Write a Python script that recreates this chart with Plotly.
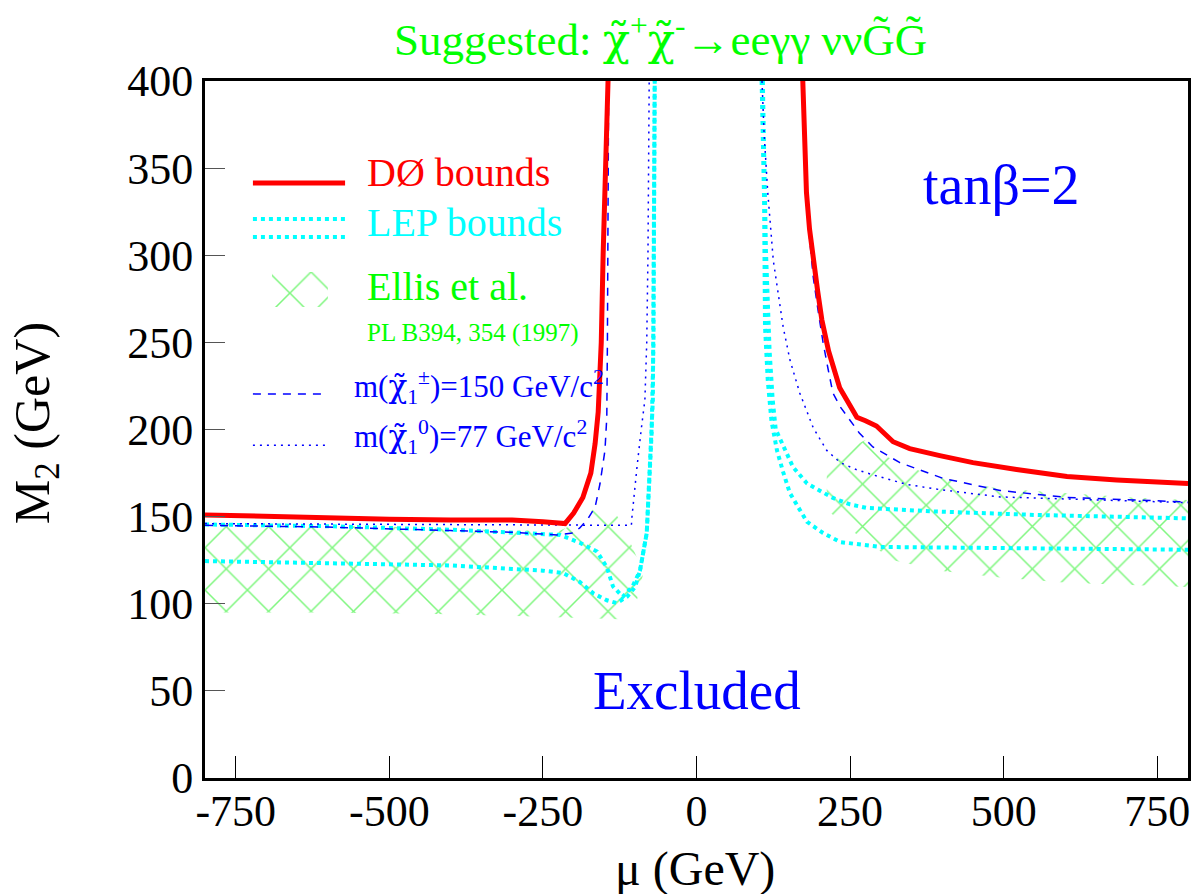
import plotly.graph_objects as go

# ---------------- data ----------------
# D0 bounds (red)
d0_left_mu = [-800, -700, -600, -500, -400, -300, -250, -214, -200, -185, -172, -165, -160, -155, -152, -149, -146, -144]
d0_left_m2 = [151, 150, 149, 148.5, 148, 148, 147, 146, 152, 161, 175, 192, 210, 250, 300, 340, 380, 400]
d0_right_mu = [173, 176, 179, 184, 190, 197, 204, 215, 233, 245, 261, 275, 293, 320, 347, 396, 450, 521, 603, 684, 800]
d0_right_m2 = [400, 370, 336, 315, 297, 280, 263, 245, 224, 217, 207, 205, 202, 193, 189, 185, 181, 177, 173, 171, 169]

# LEP bounds (cyan, two lines each side)
lep_left_up_mu = [-800, -600, -400, -300, -222, -190, -162, -146, -136, -120, -104, -92, -81, -73, -70, -68]
lep_left_up_m2 = [145.5, 144.5, 142.5, 141, 139.5, 135, 130, 121, 110, 104, 110, 119, 140.6, 198, 250, 400]
lep_left_lo_mu = [-800, -600, -400, -300, -250, -217, -190, -168, -146, -130, -113, -100, -92, -81, -73, -71, -68]
lep_left_lo_m2 = [124.5, 123.5, 122, 120, 119, 117.6, 112.5, 106, 102, 100.4, 104, 109.6, 119, 140.6, 198, 217, 400]
lep_right_up_mu = [108, 111, 113, 119, 124, 129, 144, 157, 180, 222, 250, 277, 385, 549, 800]
lep_right_up_m2 = [400, 340, 303, 245, 217, 200, 188, 178.5, 169, 160.7, 157, 155, 153, 151, 149]
lep_right_lo_mu = [106, 110, 111.5, 116, 122, 131, 141, 152, 168, 180, 206, 234, 299, 440, 603, 800]
lep_right_lo_m2 = [400, 332, 259, 228, 205, 188, 175.6, 163.5, 154, 147, 140.6, 135.4, 132.6, 132, 131.4, 131]

# m(chargino1) = 150 GeV (blue dashed)
chi_pm_left_mu = [-800, -600, -400, -300, -227, -201, -190, -177, -165, -157, -149, -146, -145, -144, -143]
chi_pm_left_m2 = [145, 144, 142, 141, 139.5, 140.6, 143.5, 148.6, 155.5, 169, 188, 207, 250, 320, 400]
chi_pm_right_mu = [172, 176, 179, 184, 190, 198, 206, 214, 222, 234, 250, 265, 287, 331, 401, 494, 603, 710, 800]
chi_pm_right_m2 = [400, 365, 336, 310, 287.5, 268, 250, 235, 221, 213, 205.5, 198, 190, 181, 172, 165, 161, 159.5, 158.4]

# m(neutralino1) = 77 GeV (blue dotted)
chi0_left_mu = [-800, -500, -300, -200, -106, -105, -101, -97, -90, -84, -81, -79, -77]
chi0_left_m2 = [146, 145.5, 145, 145, 145, 150, 165, 178, 200, 217, 250, 300, 400]
chi0_right_mu = [106.6, 110, 116, 125, 141, 152, 168, 190, 212, 234, 260, 287, 342, 396, 494, 657, 800]
chi0_right_m2 = [400, 370, 336, 297, 259, 240, 221, 201, 188, 181, 177, 174, 168.5, 165.5, 161.3, 159.5, 158]

# Ellis et al. hatched regions
ellis_left_mu = [-800, -500, -300, -222, -190, -160, -149, -120, -95, -87, -97, -113, -200, -400, -600, -800]
ellis_left_m2 = [146, 144, 142, 142, 147, 157, 162, 145, 125, 117, 102, 91, 92, 94, 95, 95]
ellis_right_mu = [212, 240, 275, 300, 331, 385, 494, 603, 710, 800, 800, 603, 494, 396, 320, 260, 212]
ellis_right_m2 = [177, 188, 194, 186, 181, 173, 166, 163.6, 161, 159.5, 109.6, 112, 115, 119, 125, 140, 154]

x_ticks = [-750, -500, -250, 0, 250, 500, 750]
x_tick_labels = ["-750", "-500", "-250", "0", "250", "500", "750"]
y_ticks = [0, 50, 100, 150, 200, 250, 300, 350, 400]
y_tick_labels = ["0", "50", "100", "150", "200", "250", "300", "350", "400"]

# ---------------- style ----------------
RED = "#ff0000"
CYAN = "#00ffff"
BLUE = "#0000ff"
GREEN = "#00ff00"
HATCH = "#00ee00"
FONT = "Liberation Serif"
CHI = "<span style='font-family:DejaVu Serif'>χ̃</span>"

hatch = dict(shape="x", size=30, solidity=0.1, fgcolor=HATCH, bgcolor="rgba(0,0,0,0)")

fig = go.Figure()


def area(x, y):
    fig.add_trace(go.Scatter(x=x, y=y, mode="lines", fill="toself",
                             fillcolor="rgba(0,0,0,0)", fillpattern=hatch,
                             line=dict(width=0, color=HATCH), hoverinfo="skip"))


def curve(x, y, color, width, dash="solid"):
    fig.add_trace(go.Scatter(x=x, y=y, mode="lines",
                             line=dict(color=color, width=width, dash=dash),
                             hoverinfo="skip"))


area(ellis_left_mu, ellis_left_m2)
area(ellis_right_mu, ellis_right_m2)

for xs, ys in [(lep_left_up_mu, lep_left_up_m2), (lep_left_lo_mu, lep_left_lo_m2),
               (lep_right_up_mu, lep_right_up_m2), (lep_right_lo_mu, lep_right_lo_m2)]:
    curve(xs, ys, CYAN, 4, "dot")

for xs, ys in [(chi0_left_mu, chi0_left_m2), (chi0_right_mu, chi0_right_m2)]:
    curve(xs, ys, BLUE, 1.5, "2px,5px")

for xs, ys in [(chi_pm_left_mu, chi_pm_left_m2), (chi_pm_right_mu, chi_pm_right_m2)]:
    curve(xs, ys, BLUE, 1.5, "8px,7px")

for xs, ys in [(d0_left_mu, d0_left_m2), (d0_right_mu, d0_right_m2)]:
    curve(xs, ys, RED, 5)

# legend hatch sample
fig.add_trace(go.Scatter(x=[-691, -600, -600, -691, -691], y=[290.4, 290.4, 270.3, 270.3, 290.4],
                         mode="lines", fill="toself", fillcolor="rgba(0,0,0,0)",
                         fillpattern=hatch, line=dict(width=0, color=HATCH), hoverinfo="skip"))

shapes = [
    dict(type="line", xref="x", yref="y", x0=-722, x1=-572, y0=341.5, y1=341.5,
         line=dict(color=RED, width=5)),
    dict(type="line", xref="x", yref="y", x0=-722, x1=-572, y0=320.8, y1=320.8,
         line=dict(color=CYAN, width=4, dash="dot")),
    dict(type="line", xref="x", yref="y", x0=-722, x1=-572, y0=310.5, y1=310.5,
         line=dict(color=CYAN, width=4, dash="dot")),
    dict(type="line", xref="x", yref="y", x0=-722, x1=-601, y0=220.4, y1=220.4,
         line=dict(color=BLUE, width=1.5, dash="8px,7px")),
    dict(type="line", xref="x", yref="y", x0=-722, x1=-600, y0=191, y1=191,
         line=dict(color=BLUE, width=1.5, dash="2px,5px")),
]


def txt(x, y, s, color, size, xanchor="left"):
    return dict(x=x, y=y, xref="x", yref="y", text=s, showarrow=False,
                xanchor=xanchor, yanchor="middle",
                font=dict(family=FONT, size=size, color=color))


def ptxt(x, y, s, color, size, angle=0):
    return dict(x=x, y=y, xref="paper", yref="paper", text=s, showarrow=False,
                xanchor="center", yanchor="middle", textangle=angle,
                font=dict(family=FONT, size=size, color=color))


annotations = [
    ptxt(0.463, 1.063, "Suggested: " + CHI + "<sup>+</sup>" + CHI + "<sup>-</sup>→eeγγ ννG̃G̃", GREEN, 45),
    ptxt(0.4985, -0.13, "μ (GeV)", "black", 48),
    ptxt(-0.172, 0.509, "M<sub>2</sub> (GeV)", "black", 50, -90),
    txt(-539.5, 347.5, "DØ bounds", RED, 40),
    txt(-539.5, 319, "LEP bounds", CYAN, 40),
    txt(-539.5, 282, "Ellis et al.", GREEN, 40),
    txt(-539.5, 255.4, "PL B394, 354 (1997)", GREEN, 25),
    txt(-561, 224.4, "m(" + CHI + "<sub>1</sub><sup>±</sup>)=150 GeV/c<sup>2</sup>", BLUE, 31),
    txt(-561, 195.7, "m(" + CHI + "<sub>1</sub><sup>0</sup>)=77 GeV/c<sup>2</sup>", BLUE, 31),
    txt(497, 340.3, "tanβ=2", BLUE, 56, "center"),
    txt(0, 50.5, "Excluded", BLUE, 55, "center"),
]

fig.update_layout(
    width=1194, height=894,
    margin=dict(l=205, r=6, t=81, b=116),
    paper_bgcolor="white", plot_bgcolor="white",
    showlegend=False,
    font=dict(family=FONT, color="black"),
    shapes=shapes, annotations=annotations,
)
fig.update_xaxes(range=[-800, 800], tickvals=x_ticks, ticktext=x_tick_labels,
                 ticks="inside", ticklen=22, tickwidth=1, tickcolor="black",
                 showline=True, linewidth=3, linecolor="black", mirror=True,
                 showgrid=False, zeroline=False, ticklabelstandoff=-8,
                 tickfont=dict(family=FONT, size=44, color="black"),
                 automargin=False)
fig.update_yaxes(range=[0, 400], tickvals=y_ticks, ticktext=y_tick_labels,
                 ticks="inside", ticklen=20, tickwidth=1, tickcolor="#555555",
                 showline=True, linewidth=3, linecolor="black", mirror=True,
                 showgrid=False, zeroline=False,
                 tickfont=dict(family=FONT, size=44, color="black"),
                 automargin=False)

fig.write_html("out.html")
